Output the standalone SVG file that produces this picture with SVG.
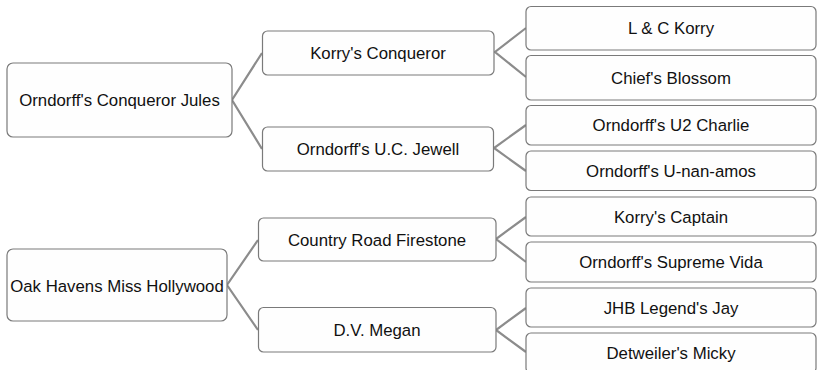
<svg xmlns="http://www.w3.org/2000/svg" width="819" height="370" viewBox="0 0 819 370">
<style>
.box{fill:#fefefe;stroke:#7a7a7a;stroke-width:1.2}
.lbl{font-family:"Liberation Sans",Arial,sans-serif;font-size:16.8px;fill:#111;text-anchor:middle}
.con{fill:none;stroke:#8c8c8c;stroke-width:2.2;stroke-linejoin:miter}
</style>
<rect width="819" height="370" fill="#ffffff"/>
<g id="connectors">
<polyline class="con" points="262,53 232,100 262,149"/>
<polyline class="con" points="526,28 495,52 526,77"/>
<polyline class="con" points="526,125 494,148 526,171"/>
<polyline class="con" points="258,240 227,285 258,330"/>
<polyline class="con" points="526,217 496,239 526,262"/>
<polyline class="con" points="526,308 496,330 526,352"/>
</g>
<g id="n1"><rect class="box" x="7" y="63" width="225" height="74" rx="6"/><text class="lbl" x="119.5" y="106">Orndorff's Conqueror Jules</text></g>
<g id="n2"><rect class="box" x="262.5" y="31" width="231.5" height="44" rx="5"/><text class="lbl" x="378" y="59">Korry's Conqueror</text></g>
<g id="n3"><rect class="box" x="262.5" y="127" width="231" height="44" rx="5"/><text class="lbl" x="378" y="155">Orndorff's U.C. Jewell</text></g>
<g id="n4"><rect class="box" x="526" y="6.5" width="290" height="43.5" rx="5"/><text class="lbl" x="671" y="34">L &amp; C Korry</text></g>
<g id="n5"><rect class="box" x="526" y="55.5" width="290" height="44.5" rx="5"/><text class="lbl" x="671" y="83.5">Chief's Blossom</text></g>
<g id="n6"><rect class="box" x="526" y="105.5" width="290" height="39.5" rx="5"/><text class="lbl" x="671" y="131">Orndorff's U2 Charlie</text></g>
<g id="n7"><rect class="box" x="526" y="151" width="290" height="39.5" rx="5"/><text class="lbl" x="671" y="176.5">Orndorff's U-nan-amos</text></g>
<g id="n8"><rect class="box" x="7" y="249" width="220" height="72" rx="6"/><text class="lbl" x="117" y="292">Oak Havens Miss Hollywood</text></g>
<g id="n9"><rect class="box" x="258.5" y="218" width="237.5" height="43" rx="5"/><text class="lbl" x="377" y="245.5">Country Road Firestone</text></g>
<g id="n10"><rect class="box" x="258.5" y="307.5" width="237.5" height="44.5" rx="5"/><text class="lbl" x="377" y="336">D.V. Megan</text></g>
<g id="n11"><rect class="box" x="526" y="197" width="290" height="39" rx="5"/><text class="lbl" x="671" y="222.5">Korry's Captain</text></g>
<g id="n12"><rect class="box" x="526" y="242" width="290" height="40" rx="5"/><text class="lbl" x="671" y="268">Orndorff's Supreme Vida</text></g>
<g id="n13"><rect class="box" x="526" y="288" width="290" height="39" rx="5"/><text class="lbl" x="671" y="313.5">JHB Legend's Jay</text></g>
<g id="n14"><rect class="box" x="526" y="333" width="290" height="40" rx="5"/><text class="lbl" x="671" y="359">Detweiler's Micky</text></g>
</svg>
